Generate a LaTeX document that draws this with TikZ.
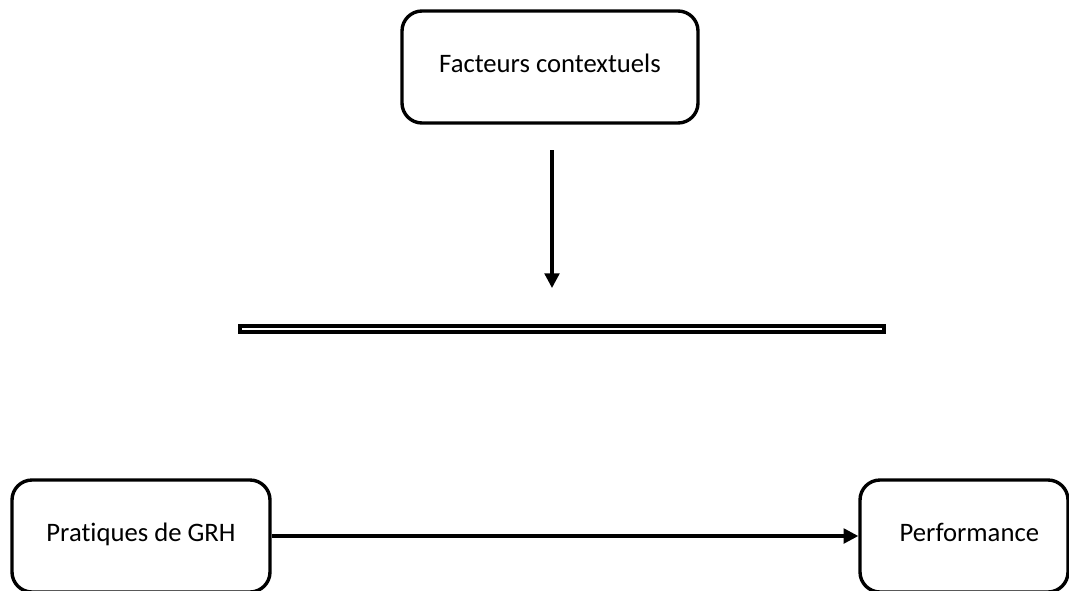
\documentclass[tikz,border=0pt]{standalone}
\usepackage{fontspec}
\setmainfont{Carlito}[Ligatures={NoCommon}]
\usetikzlibrary{arrows.meta}
\begin{document}
\begin{tikzpicture}[x=0.75pt,y=-0.75pt,
  box/.style={draw=black,line width=3.4pt*0.75,rounded corners=15pt,inner sep=0pt,font=\fontsize{20}{24}\selectfont},
  conn/.style={line width=3.2pt*0.75,-{Triangle[width=11pt,length=11pt]}}]
\useasboundingbox (0,0) rectangle (1069,590);
\clip (0,0) rectangle (1069,590);
\node[box,minimum width=296*0.75pt,minimum height=112*0.75pt] (fc) at (550,67) {\raisebox{6pt}{Facteurs contextuels}};
\node[box,minimum width=258*0.75pt,minimum height=112*0.75pt] (grh) at (141,536) {\raisebox{6pt}{Pratiques de GRH}};
\node[box,minimum width=208*0.75pt,minimum height=112*0.75pt] (perf) at (964,536) {\raisebox{6pt}{\hspace{8pt}Performance}};
\node[draw=black,line width=3.6pt*0.75,minimum width=644*0.75pt,minimum height=6*0.75pt,inner sep=0pt] (bar) at (562,329) {};
\coordinate (a1) at (552,150);
\coordinate (a2) at (552,288);
\draw[conn] (a1) -- (a2);
\draw[conn] (grh.east) -- (perf.west);
\end{tikzpicture}
\end{document}
